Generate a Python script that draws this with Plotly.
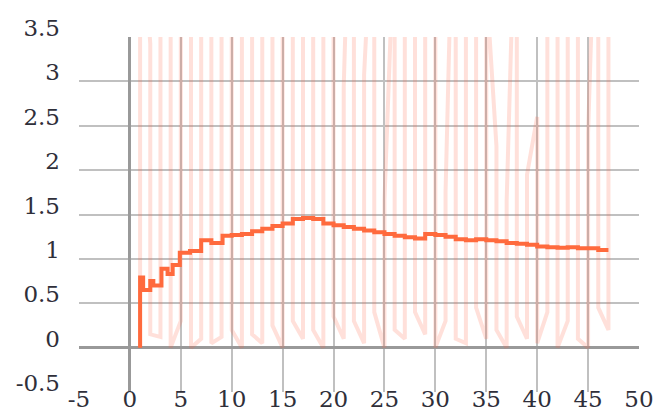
import plotly.graph_objects as go

# Raw draws: each step has a low and a high value (highs mostly above the axis range)
steps = list(range(1, 48))
draws_low = [0.00, 0.15, 0.12, 0.00, 0.30, 0.00, 0.10, 0.05, 0.12, 0.20,
             0.00, 0.15, 0.05, 0.25, 0.00, 0.30, 0.10, 0.20, 0.00, 0.35,
             0.10, 0.30, 0.05, 0.40, 0.00, 0.20, 0.10, 0.40, 0.15, 0.00,
             0.30, 0.10, 0.05, 0.45, 0.10, 0.20, 0.00, 0.35, 0.10, 0.05,
             0.40, 0.00, 0.30, 0.10, 0.00, 0.45, 0.20]
draws_high = [5.2, 3.42, 6.8, 4.9, 7.3, 5.5, 4.4, 6.0, 8.1, 5.0,
              6.6, 4.7, 5.9, 7.7, 4.5, 6.3, 5.1, 8.4, 4.6, 5.8,
              2.94, 6.9, 3.07, 5.4, 1.66, 4.8, 7.0, 5.6, 6.2, 4.3,
              1.75, 6.4, 5.3, 7.9, 4.1, 2.27, 1.65, 5.7, 1.95, 2.60,
              6.5, 4.9, 7.2, 5.0, 2.42, 6.1, 5.4]

# Running average, drawn as a step line
mean_x = [1, 1, 1.3, 2, 2.3, 3.1, 3.7, 4.2, 4.9, 5.9, 7.0, 8.0, 9.1, 10, 11,
          12, 13, 14, 15, 16, 17, 18, 19, 20, 21, 22, 23, 24, 25, 26, 27, 28,
          29, 30, 31, 32, 33, 34, 35, 36, 37, 38, 39, 40, 41, 42, 43, 44, 45,
          46, 47]
mean_y = [0, 0.79, 0.65, 0.75, 0.70, 0.89, 0.83, 0.93, 1.07, 1.09, 1.21, 1.18,
          1.26, 1.27, 1.28, 1.31, 1.34, 1.37, 1.40, 1.45, 1.46, 1.45, 1.40,
          1.38, 1.36, 1.34, 1.32, 1.30, 1.28, 1.26, 1.245, 1.23, 1.28, 1.27,
          1.25, 1.22, 1.21, 1.22, 1.21, 1.20, 1.18, 1.17, 1.16, 1.14, 1.13,
          1.125, 1.13, 1.12, 1.12, 1.10, 1.10]

x_ticks = [-5, 0, 5, 10, 15, 20, 25, 30, 35, 40, 45, 50]
y_ticks = [-0.5, 0, 0.5, 1, 1.5, 2, 2.5, 3, 3.5]

# Interleave the draws into one path: low->high on odd steps, high->low on even
px, py = [], []
for i, (s, lo, hi) in enumerate(zip(steps, draws_low, draws_high)):
    pair = (lo, hi) if i % 2 == 0 else (hi, lo)
    px += [s, s]
    py += list(pair)

fig = go.Figure()
fig.add_trace(go.Scatter(x=px, y=py, mode="lines",
                         line=dict(color="rgba(255,99,71,0.2)", width=4),
                         hoverinfo="skip", showlegend=False))
fig.add_trace(go.Scatter(x=mean_x, y=mean_y, mode="lines",
                         line=dict(color="#ff6a3d", width=4, shape="hv"),
                         showlegend=False))

font = dict(family="DejaVu Serif", size=23, color="#2f2f3a")
fig.update_layout(
    width=657, height=412,
    margin=dict(l=79, r=18, t=37, b=20),
    paper_bgcolor="white", plot_bgcolor="white",
    font=font,
)
fig.update_xaxes(range=[-5, 50], tickvals=x_ticks,
                 ticktext=[str(v) for v in x_ticks],
                 showgrid=True, gridcolor="#c0c0c0", gridwidth=1.5,
                 zeroline=True, zerolinecolor="#999999", zerolinewidth=3,
                 showline=False, ticks="", automargin=False, tickfont=font,
                 ticklabelstandoff=-9)
fig.update_yaxes(range=[-0.5, 3.5], tickvals=y_ticks,
                 ticktext=[f"{v:g}" for v in y_ticks],
                 showgrid=True, gridcolor="#c0c0c0", gridwidth=1.5,
                 zeroline=True, zerolinecolor="#999999", zerolinewidth=3,
                 showline=False, ticks="", automargin=False, tickfont=font,
                 ticklabelshift=-9, ticklabelstandoff=18)

fig.write_html("out.html")
